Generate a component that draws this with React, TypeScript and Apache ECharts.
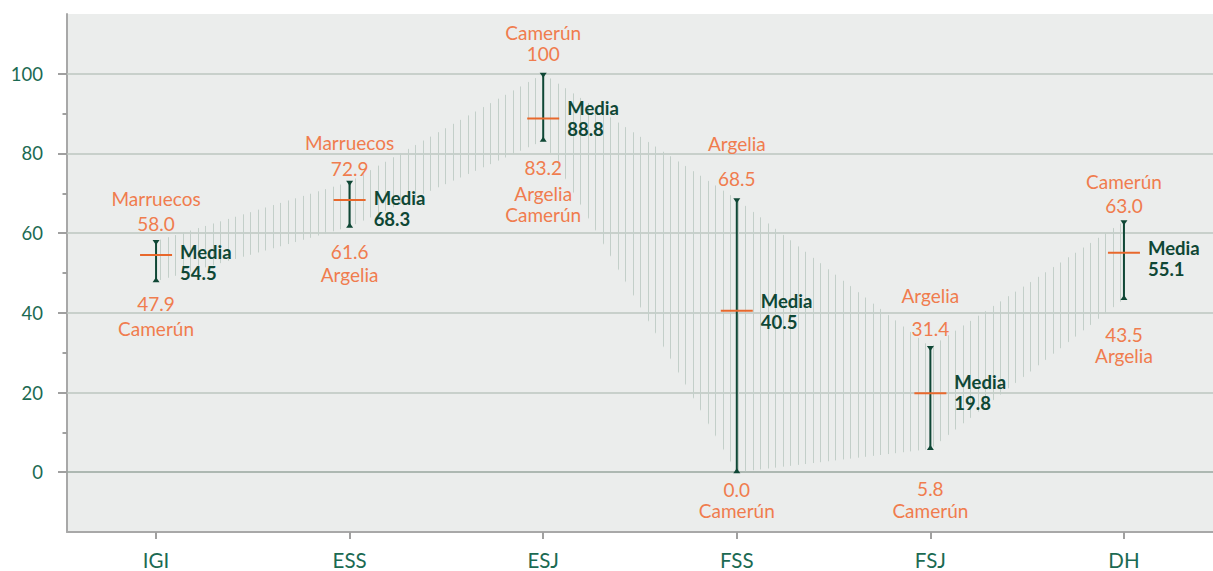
import React, { useEffect, useRef } from 'react';
import * as echarts from 'echarts';

// ---- data ----
const categories = ['IGI', 'ESS', 'ESJ', 'FSS', 'FSJ', 'DH'];
const maxValues = [58.0, 72.9, 100, 68.5, 31.4, 63.0];
const minValues = [47.9, 61.6, 83.2, 0.0, 5.8, 43.5];
const meanValues = [54.5, 68.3, 88.8, 40.5, 19.8, 55.1];
const maxCountries = [['Marruecos'], ['Marruecos'], ['Camerún'], ['Argelia'], ['Argelia'], ['Camerún']];
const minCountries = [['Camerún'], ['Argelia'], ['Argelia', 'Camerún'], ['Camerún'], ['Camerún'], ['Argelia']];
const yTickValues = [0, 20, 40, 60, 80, 100];
const yMinorTickValues = [10, 30, 50, 70, 90];
const meanLabel = 'Media';

// ---- label layout (px offsets) ----
const maxNumLift = [18, 13, 20, 21, 19, 16];
const maxNameGap = [25, 26, 21, 35, 33, 24];
const minNumDrop = [22, 25, 27, 17, 39, 36];
const minNameGap = [25, 23, 26, 21, 22, 21];
const mediaShift = [7, 8.5, 0.6, 1, -0.5, 5.6];

const DARK = '#0f4735';
const ORANGE_TEXT = '#f07c4e';
const ORANGE_LINE = '#e8682c';
const AXIS_TEXT = '#1b6a52';
const HATCH = '#c3cfc9';
const FONT = 'Lato, "Open Sans", sans-serif';

const fmt = (v: number) => (v >= 100 ? String(v) : v.toFixed(1));

function makeHatch(): HTMLCanvasElement {
  const c = document.createElement('canvas');
  c.width = 15;
  c.height = 4;
  const ctx = c.getContext('2d')!;
  ctx.fillStyle = HATCH;
  ctx.fillRect(3, 0, 1, 4);
  ctx.fillRect(10, 0, 1, 4);
  return c;
}

export default function App() {
  const ref = useRef<HTMLDivElement>(null);
  useEffect(() => {
    if (!ref.current) return;
    const chart = echarts.init(ref.current, null, { renderer: 'svg' });
    const idx = categories.map((_, i) => i);
    const gridStyle = { color: '#bcc6c1', width: 1.5, type: 'solid' };
    const zeroStyle = { color: '#98a69f', width: 1.5, type: 'solid' };
    const hatch = makeHatch();

    const option: any = {
      animation: false,
      backgroundColor: '#ffffff',
      grid: {
        left: 67, right: 0, top: 14, bottom: 39,
        show: true, backgroundColor: '#ebedec', borderWidth: 0,
        containLabel: false, outerBoundsMode: 'none',
      },
      xAxis: {
        type: 'value', min: -0.46, max: 5.46,
        axisLine: { show: true, onZero: false, lineStyle: { color: '#a8a8a8', width: 2 } },
        axisTick: { show: true, customValues: idx, length: 7, lineStyle: { color: '#a0a0a0', width: 2 } },
        axisLabel: {
          customValues: idx, margin: 20, color: AXIS_TEXT, fontSize: 20.5, lineHeight: 16, fontFamily: FONT,
          formatter: (v: number) => categories[Math.round(v)] ?? '',
        },
        splitLine: { show: false },
      },
      yAxis: [
        {
          type: 'value', min: -15, max: 115, position: 'left',
          axisLine: { show: true, onZero: false, lineStyle: { color: '#a8a8a8', width: 2 } },
          axisTick: { show: true, customValues: yTickValues, length: 9, lineStyle: { color: '#a0a0a0', width: 2 } },
          axisLabel: { customValues: yTickValues, margin: 24, color: AXIS_TEXT, fontSize: 18.5, fontFamily: FONT },
          splitLine: { show: false },
        },
        {
          type: 'value', min: -15, max: 115, position: 'left',
          axisLine: { show: false, onZero: false },
          axisTick: { show: true, customValues: yMinorTickValues, length: 4.5, lineStyle: { color: '#a0a0a0', width: 2 } },
          axisLabel: { show: false },
          splitLine: { show: false },
        },
      ],
      series: [
        {
          // value first, category position second, so that stacking runs along y
          type: 'line', name: 'low', stack: 'band', symbol: 'none', silent: true, z: 1,
          encode: { x: 1, y: 0 },
          data: idx.map(i => [minValues[i], i]),
          lineStyle: { width: 0, opacity: 0 },
          markLine: {
            silent: true, symbol: 'none', label: { show: false }, z: 1,
            data: yTickValues.map(v => ({ yAxis: v, lineStyle: v === 0 ? zeroStyle : gridStyle })),
          },
        },
        {
          type: 'line', name: 'range', stack: 'band', symbol: 'none', silent: true, z: 2,
          encode: { x: 1, y: 0 },
          data: idx.map(i => [maxValues[i] - minValues[i], i]),
          lineStyle: { width: 0, opacity: 0 },
          areaStyle: { color: { image: hatch, repeat: 'repeat' }, opacity: 1 },
        },
        {
          type: 'custom', name: 'stats', silent: true, z: 5, clip: false,
          encode: { x: 0, y: [1, 2, 3] },
          data: idx.map(i => [i, minValues[i], maxValues[i], meanValues[i]]),
          renderItem: (params: any, api: any) => {
            const i = params.dataIndex;
            const xv = api.value(0);
            const [x, yLo] = api.coord([xv, api.value(1)]);
            const yHi = api.coord([xv, api.value(2)])[1];
            const yMean = api.coord([xv, api.value(3)])[1];
            const txt = (text: string, tx: number, ty: number, color: string, bold = false, align = 'center') => ({
              type: 'text', x: tx, y: ty,
              style: {
                text, fill: color, fontSize: bold ? 18.5 : 19, lineHeight: 17, fontWeight: bold ? 'bold' : 'normal',
                fontFamily: FONT, align, verticalAlign: 'middle',
              },
            });
            const children: any[] = [
              { type: 'line', shape: { x1: x, y1: yHi, x2: x, y2: yLo }, style: { stroke: DARK, lineWidth: 2 } },
              { type: 'polygon', shape: { points: [[x - 3.5, yHi - 1], [x + 3.5, yHi - 1], [x, yHi + 4]] }, style: { fill: DARK } },
              { type: 'polygon', shape: { points: [[x - 3.5, yLo + 1], [x + 3.5, yLo + 1], [x, yLo - 4]] }, style: { fill: DARK } },
              { type: 'line', shape: { x1: x - 16, y1: yMean, x2: x + 16, y2: yMean }, style: { stroke: ORANGE_LINE, lineWidth: 2 } },
            ];
            const yMaxNum = yHi - maxNumLift[i];
            children.push(txt(fmt(maxValues[i]), x, yMaxNum, ORANGE_TEXT));
            const mc = maxCountries[i];
            mc.forEach((n, k) => {
              children.push(txt(n, x, yMaxNum - maxNameGap[i] - (mc.length - 1 - k) * 21, ORANGE_TEXT));
            });
            const yMinNum = yLo + minNumDrop[i];
            children.push(txt(fmt(minValues[i]), x, yMinNum, ORANGE_TEXT));
            minCountries[i].forEach((n, k) => {
              children.push(txt(n, x, yMinNum + minNameGap[i] + k * 21, ORANGE_TEXT));
            });
            const yc = yMean + mediaShift[i];
            children.push(txt(meanLabel, x + 24, yc - 10.5, DARK, true, 'left'));
            children.push(txt(fmt(meanValues[i]), x + 24, yc + 10.5, DARK, true, 'left'));
            return { type: 'group', children };
          },
        },
      ],
    };
    chart.setOption(option);
    return () => chart.dispose();
  }, []);
  return <div ref={ref} style={{ position: 'absolute', left: 0, top: 0, width: 1213, height: 571 }} />;
}
